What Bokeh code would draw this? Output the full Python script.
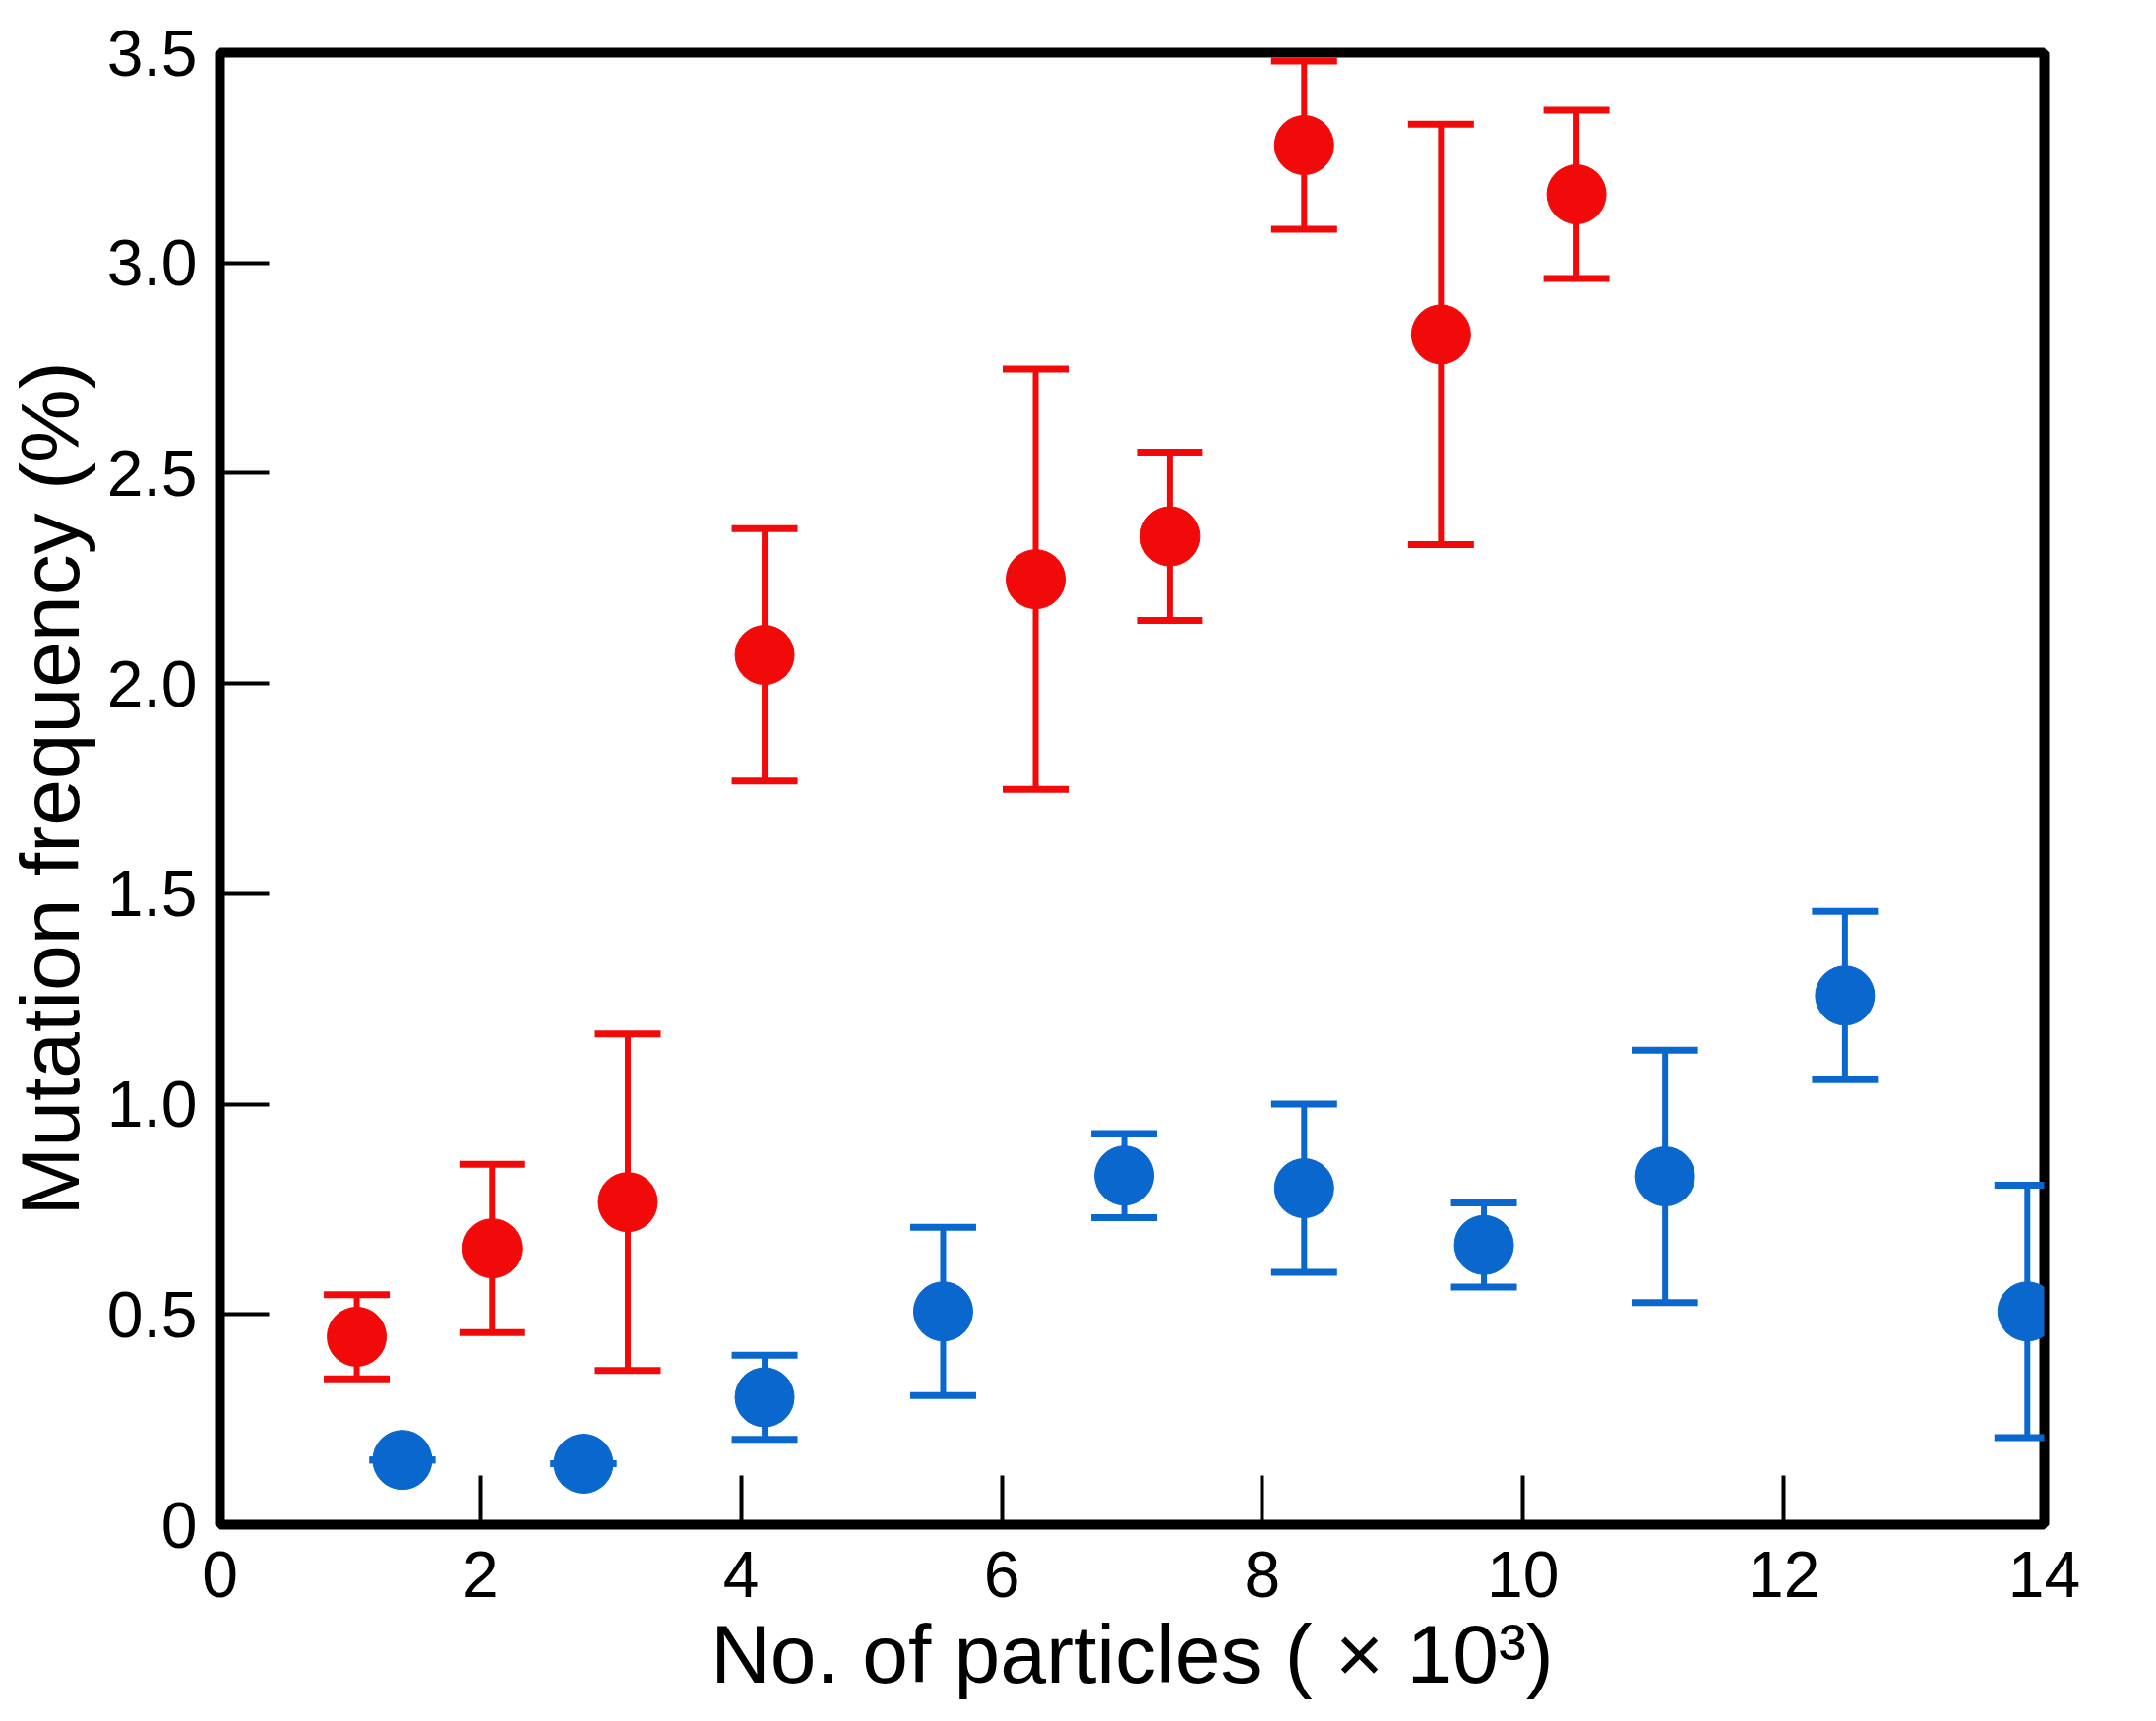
from bokeh.plotting import figure
from bokeh.models import ColumnDataSource, Whisker, TeeHead, Range1d, FixedTicker
from bokeh.embed import file_html
from bokeh.resources import INLINE

# Data (x in thousands of particles, y in %)
red_x = [1.05, 2.09, 3.13, 4.18, 6.26, 7.29, 8.32, 9.37, 10.41]
red_y = [0.447, 0.657, 0.767, 2.068, 2.248, 2.35, 3.28, 2.83, 3.163]
red_err = [0.1, 0.2, 0.4, 0.3, 0.5, 0.2, 0.2, 0.5, 0.2]

blue_x = [1.40, 2.79, 4.18, 5.55, 6.94, 8.32, 9.70, 11.09, 12.47, 13.87]
blue_y = [0.154, 0.145, 0.303, 0.507, 0.83, 0.80, 0.665, 0.828, 1.258, 0.507]
blue_err = [0.0, 0.0, 0.1, 0.2, 0.1, 0.2, 0.1, 0.3, 0.2, 0.3]

x_ticks = [0, 2, 4, 6, 8, 10, 12, 14]
y_ticks = [0, 0.5, 1.0, 1.5, 2.0, 2.5, 3.0, 3.5]
y_labels = {0: "0", 0.5: "0.5", 1: "1.0", 1.5: "1.5", 2: "2.0", 2.5: "2.5", 3: "3.0", 3.5: "3.5"}

RED = "#f20a0a"
BLUE = "#0a67cd"
TICK_FONT = "Liberation Sans"
LABEL_FONT = "Liberation Sans"

p = figure(
    width=2175, height=1733,
    x_range=Range1d(0, 14), y_range=Range1d(0, 3.5),
    x_axis_label="No. of particles ( \u00d7 10\u00b3)",
    y_axis_label="Mutation frequency (%)",
    toolbar_location=None, output_backend="svg",
    min_border_left=223, min_border_top=53, min_border_right=98, min_border_bottom=184,
)
p.grid.visible = False
p.outline_line_color = "black"
p.outline_line_width = 10
p.background_fill_color = "white"
p.border_fill_color = "white"

p.xaxis.ticker = FixedTicker(ticks=x_ticks)
p.yaxis.ticker = FixedTicker(ticks=y_ticks)
p.yaxis.major_label_overrides = y_labels

for ax in (p.xaxis, p.yaxis):
    ax.axis_line_color = None
    ax.major_tick_in = 50
    ax.major_tick_out = 0
    ax.major_tick_line_width = 4
    ax.major_tick_line_color = "black"
    ax.minor_tick_line_color = None
    ax.major_label_text_font = TICK_FONT
    ax.major_label_text_font_size = "66px"
    ax.major_label_text_color = "black"
    ax.axis_label_text_font = LABEL_FONT
    ax.axis_label_text_font_size = "84px"
    ax.axis_label_text_font_style = "normal"
    ax.axis_label_text_color = "black"

p.xaxis.major_label_standoff = 27
p.yaxis.major_label_standoff = 23
p.xaxis.axis_label_standoff = 8
p.yaxis.axis_label_standoff = 8

for xs, ys, errs, color in ((red_x, red_y, red_err, RED), (blue_x, blue_y, blue_err, BLUE)):
    src = ColumnDataSource(data=dict(
        x=xs, y=ys,
        upper=[v + e for v, e in zip(ys, errs)],
        lower=[v - e for v, e in zip(ys, errs)],
    ))
    w = Whisker(
        base="x", upper="upper", lower="lower", source=src,
        line_color=color, line_width=6,
        upper_head=TeeHead(size=67, line_color=color, line_width=7),
        lower_head=TeeHead(size=67, line_color=color, line_width=7),
        level="underlay",
    )
    p.add_layout(w)
    p.scatter("x", "y", source=src, size=60, fill_color=color, line_color=color)

open("out.html", "w").write(file_html(p, INLINE))
